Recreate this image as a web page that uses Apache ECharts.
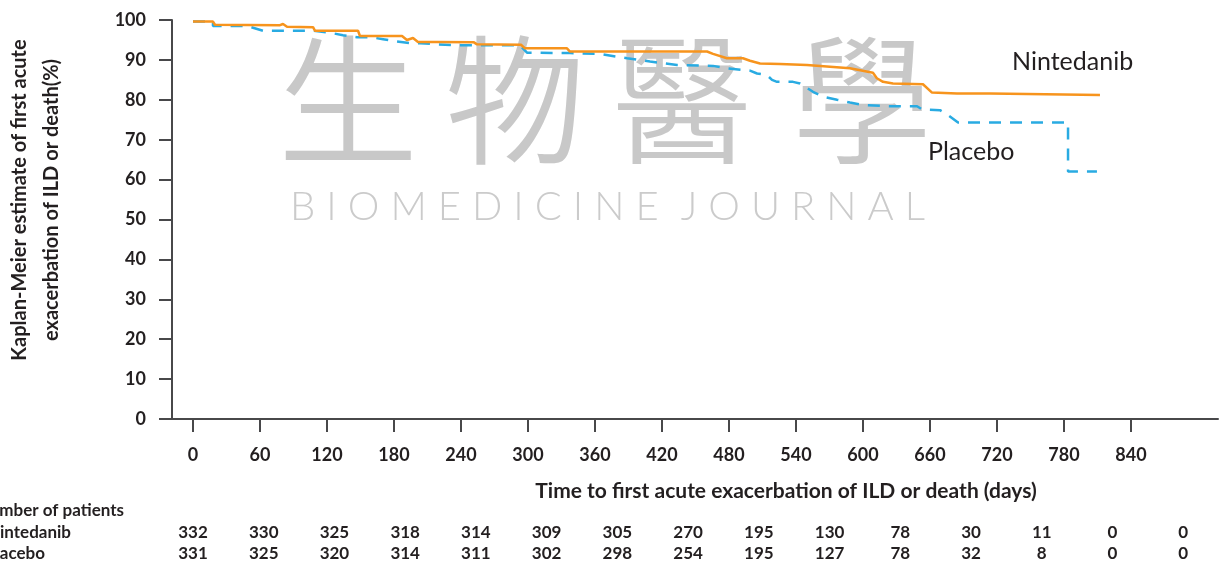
<!DOCTYPE html>
<html>
<head>
<meta charset="utf-8">
<script src="https://cdn.jsdelivr.net/npm/echarts@6/dist/echarts.min.js"></script>
<style>
  html, body { margin: 0; padding: 0; background: #ffffff; }
  #chart { width: 1220px; height: 564px; }
</style>
</head>
<body>
<div id="chart"></div>
<script>
// Time axis ticks (days)
const dayTicks = [0, 60, 120, 180, 240, 300, 360, 420, 480, 540, 600, 660, 720, 780, 840];

// Number of patients at risk at each tick
const nintedanibAtRisk = [332, 330, 325, 318, 314, 309, 305, 270, 195, 130, 78, 30, 11, 0, 0];
const placeboAtRisk = [331, 325, 320, 314, 311, 302, 298, 254, 195, 127, 78, 32, 8, 0, 0];

// Kaplan-Meier estimates: [day, % free of first acute exacerbation or death]
const nintedanibCurve = [
  [0, 99.6], [17.9, 99.6], [19.7, 98.8], [77.9, 98.7], [80.6, 99.0], [84.2, 98.3],
  [107.5, 98.2], [109.3, 97.3], [147.8, 97.3], [149.5, 96.0], [187.2, 96.0],
  [191.6, 95.0], [197.0, 95.5], [201.5, 94.5], [218.5, 94.5], [251.6, 94.4],
  [254.3, 93.9], [293.7, 93.8], [297.3, 92.9], [334.9, 92.9], [337.6, 92.1],
  [460.3, 92.1], [465.7, 91.5], [478.2, 90.4], [492.5, 90.4], [498.8, 89.8],
  [507.8, 89.1], [525.7, 89.0], [549.8, 88.7], [588.3, 87.9], [608.9, 86.8],
  [612.4, 85.4], [617.9, 84.5], [626.9, 84.1], [653.7, 83.9], [661.8, 81.8],
  [684.2, 81.6], [713.7, 81.6], [812.2, 81.2]
];
const placeboCurve = [
  [0, 99.6], [17.9, 99.6], [17.9, 98.5], [48.4, 98.5], [62.7, 97.3], [107.5, 97.3],
  [122.7, 96.8], [134.3, 96.2], [146.9, 95.7], [158.5, 95.7], [170.2, 95.2],
  [182.7, 94.6], [194.3, 94.2], [203.3, 94.2], [218.5, 93.9], [236.4, 93.7],
  [292.8, 93.7], [299.1, 91.8], [337.6, 91.7], [364.5, 91.5], [388.7, 90.4],
  [409.3, 89.6], [433.4, 88.7], [465.7, 88.5], [478.2, 87.9], [498.8, 87.3],
  [505.1, 86.6], [514.0, 86.2], [518.5, 85.0], [523.0, 84.5], [537.3, 84.5],
  [543.6, 84.1], [555.2, 82.0], [564.2, 80.8], [576.7, 80.0], [588.3, 79.3],
  [600.0, 78.7], [624.2, 78.4], [648.4, 78.4], [652.8, 77.6], [668.9, 77.4],
  [676.1, 76.2], [685.1, 74.3], [783.6, 74.3], [783.6, 62.0], [809.5, 62.0]
];

const seriesNames = ['Nintedanib', 'Placebo'];
const rowTitles = ['Number of patients', 'Nintedanib', 'Placebo'];
const yAxisTitle = 'Kaplan-Meier estimate of first acute\nexacerbation of ILD or death(%)';
const xAxisTitle = 'Time to first acute exacerbation of ILD or death (days)';
const markChars = '生物醫學';
const markWords = 'BIOMEDICINE JOURNAL';

const FONT = 'Lato, "Open Sans", "Noto Sans", sans-serif';
const INK = '#231f20';
const AXIS = '#48484a';
const ORANGE = '#f7941d';
const BLUE = '#29abe2';

const chart = echarts.init(document.getElementById('chart'), null, { renderer: 'canvas' });

// Background watermark: four large characters
const markCenters = [348, 515, 682, 862];
const markElements = markChars.split('').map((ch, i) => ({
  type: 'text', silent: true, z: -10,
  x: markCenters[i], y: 100,
  style: {
    text: ch, fill: '#c8c8c8', font: '350 140px "Noto Sans CJK TC", sans-serif',
    align: 'center', verticalAlign: 'middle'
  }
}));

// ...and a letter-spaced line of capitals spread between x0 and x1
(function layoutLetters() {
  const font = '300 40px ' + FONT;
  const ctx = document.createElement('canvas').getContext('2d');
  ctx.font = font;
  const x0 = 290, x1 = 925;
  const chars = markWords.split('');
  const widths = chars.map(c => (c === ' ' ? 0 : ctx.measureText(c).width));
  const gapUnits = chars.length - 1;
  const gap = (x1 - x0 - widths.reduce((a, b) => a + b, 0)) / gapUnits;
  let x = x0;
  chars.forEach((c, i) => {
    if (i > 0) x += gap;
    if (c !== ' ') {
      markElements.push({
        type: 'text', silent: true, z: -10, x: x, y: 207,
        style: { text: c, fill: '#cbcbcb', font: font, align: 'left', verticalAlign: 'middle' }
      });
    }
    x += widths[i];
  });
})();

const option = {
  animation: false,
  backgroundColor: '#ffffff',
  grid: [
    { left: 172, right: 2, top: 20, bottom: 145 },
    { left: 157.6, right: 1.4, top: 522, height: 1 }
  ],
  xAxis: [
    {
      gridIndex: 0, type: 'value', min: -18.8, max: 917.9,
      splitLine: { show: false },
      axisLine: { show: true, onZero: false, lineStyle: { color: AXIS, width: 2 } },
      axisTick: { show: true, customValues: dayTicks, length: 13, lineStyle: { color: AXIS, width: 2 } },
      axisLabel: {
        customValues: dayTicks, margin: 27, fontFamily: FONT, fontWeight: 'bold',
        fontSize: 18, color: INK
      }
    },
    {
      gridIndex: 1, type: 'category', data: dayTicks.map(String),
      axisLine: { show: false }, axisTick: { show: false },
      axisLabel: {
        interval: 0, margin: 0, lineHeight: 21, fontFamily: FONT, fontWeight: 'bold',
        fontSize: 17, color: INK,
        formatter: (v, i) => nintedanibAtRisk[i] + '\n' + placeboAtRisk[i]
      }
    }
  ],
  yAxis: [
    {
      gridIndex: 0, type: 'value', min: 0, max: 100, interval: 10,
      splitLine: { show: false },
      axisLine: { show: true, onZero: false, lineStyle: { color: AXIS, width: 2 } },
      axisTick: { show: true, length: 13, lineStyle: { color: AXIS, width: 2 } },
      axisLabel: { margin: 26, fontFamily: FONT, fontWeight: 'bold', fontSize: 18, color: INK }
    },
    { gridIndex: 1, type: 'value', show: false }
  ],
  series: [
    {
      name: seriesNames[0], type: 'line', xAxisIndex: 0, yAxisIndex: 0, z: 3,
      data: nintedanibCurve, showSymbol: false, smooth: false,
      lineStyle: { color: ORANGE, width: 2.5 }
    },
    {
      name: seriesNames[1], type: 'line', xAxisIndex: 0, yAxisIndex: 0, z: 2,
      data: placeboCurve, showSymbol: false, smooth: false,
      lineStyle: { color: BLUE, width: 2.5, type: [12, 9] }
    }
  ],
  graphic: {
    elements: markElements.concat([
      {
        type: 'text', x: 36, y: 200, rotation: Math.PI / 2,
        style: {
          text: yAxisTitle, fill: INK, font: 'bold 20px ' + FONT, lineHeight: 32,
          align: 'center', verticalAlign: 'middle'
        }
      },
      {
        type: 'text', x: 786, y: 491,
        style: { text: xAxisTitle, fill: INK, font: 'bold 21px ' + FONT, align: 'center', verticalAlign: 'middle' }
      },
      {
        type: 'text', x: 1012, y: 62,
        style: { text: seriesNames[0], fill: INK, font: '25px ' + FONT, align: 'left', verticalAlign: 'middle' }
      },
      {
        type: 'text', x: 928, y: 152,
        style: { text: seriesNames[1], fill: INK, font: '25px ' + FONT, align: 'left', verticalAlign: 'middle' }
      },
      {
        type: 'text', x: 124, y: 511,
        style: { text: rowTitles[0], fill: INK, font: 'bold 17px ' + FONT, align: 'right', verticalAlign: 'middle' }
      },
      {
        type: 'text', x: 71, y: 533,
        style: { text: rowTitles[1], fill: INK, font: 'bold 17px ' + FONT, align: 'right', verticalAlign: 'middle' }
      },
      {
        type: 'text', x: 45, y: 554,
        style: { text: rowTitles[2], fill: INK, font: 'bold 17px ' + FONT, align: 'right', verticalAlign: 'middle' }
      }
    ])
  }
};

chart.setOption(option);
</script>
</body>
</html>
